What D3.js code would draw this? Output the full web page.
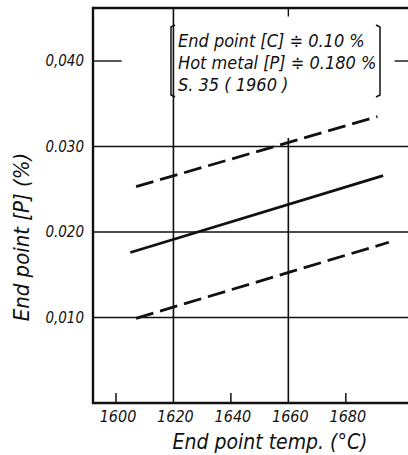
<!DOCTYPE html>
<html>
<head>
<meta charset="utf-8">
<script src="https://cdn.jsdelivr.net/npm/d3@7"></script>
<style>
  body { margin: 0; background: #fff; }
  svg { display: block; }
  text { font-family: "DejaVu Sans", sans-serif; font-style: italic; font-stretch: condensed; fill: #111; }
</style>
</head>
<body>
<div id="chart"></div>
<script>
// 数据
var xTicks = [1600, 1620, 1640, 1660, 1680]
var yTicks = [0.010, 0.020, 0.030, 0.040]
var yTickLabels = ["0,010", "0.020", "0.030", "0,040"]
var solidLine = [[1605, 0.0176], [1693, 0.0266]]
var upperDash = [[1607, 0.0253], [1691, 0.0335]]
var lowerDash = [[1607, 0.0099], [1695, 0.0188]]
var noteLines = ["End point [C] \u2251 0.10 %", "Hot metal [P] \u2251 0.180 %", "S. 35  ( 1960 )"]

var width = 408, height = 455

var svg = d3.select("#chart")
    .append("svg")
    .attr("width", width)
    .attr("height", height)

var x = d3.scaleLinear().domain([1592, 1702]).range([93, 409])
var y = d3.scaleLinear().domain([0, 0.0462]).range([403, 8])

var ink = "#111"

// 网格线
svg.selectAll("line.hgrid")
    .data(yTicks.filter(function (d) {return d < 0.035;}))
    .enter().append("line")
    .attr("x1", x(1592)).attr("x2", x(1702))
    .attr("y1", function (d) {return y(d);})
    .attr("y2", function (d) {return y(d);})
    .attr("stroke", ink).attr("stroke-width", 1.6)

// 0.040 只有两段短线 (中间是注释框)
svg.append("line")
    .attr("x1", x(1592)).attr("x2", x(1602))
    .attr("y1", y(0.040)).attr("y2", y(0.040))
    .attr("stroke", ink).attr("stroke-width", 1.4)
svg.append("line")
    .attr("x1", x(1697)).attr("x2", x(1702))
    .attr("y1", y(0.040)).attr("y2", y(0.040))
    .attr("stroke", ink).attr("stroke-width", 1.4)

// 竖线
svg.append("line")
    .attr("x1", x(1620)).attr("x2", x(1620))
    .attr("y1", y(0)).attr("y2", y(0.0462))
    .attr("stroke", ink).attr("stroke-width", 1.6)
svg.append("line")
    .attr("x1", x(1660)).attr("x2", x(1660))
    .attr("y1", y(0)).attr("y2", y(0.0310))
    .attr("stroke", ink).attr("stroke-width", 1.6)
svg.append("line")
    .attr("x1", x(1660)).attr("x2", x(1660))
    .attr("y1", y(0.0462)).attr("y2", y(0.0452))
    .attr("stroke", ink).attr("stroke-width", 1.4)

// 底部小刻度
svg.selectAll("line.xtick")
    .data([1600, 1640, 1680])
    .enter().append("line")
    .attr("x1", function (d) {return x(d);})
    .attr("x2", function (d) {return x(d);})
    .attr("y1", y(0)).attr("y2", y(0) - 10)
    .attr("stroke", ink).attr("stroke-width", 1.5)

// 边框
svg.append("path")
    .attr("d", "M" + x(1702) + "," + y(0.0462) + "H" + x(1592) + "V" + y(0) + "H" + x(1702))
    .attr("fill", "none")
    .attr("stroke", ink)
    .attr("stroke-width", 2.4)

// 数据线
var line = d3.line()
    .x(function (d) {return x(d[0]);})
    .y(function (d) {return y(d[1]);})

svg.append("path")
    .attr("d", line(solidLine))
    .attr("fill", "none").attr("stroke", ink).attr("stroke-width", 2.8)

svg.selectAll("path.dash")
    .data([upperDash, lowerDash])
    .enter().append("path")
    .attr("d", line)
    .attr("fill", "none")
    .attr("stroke", ink)
    .attr("stroke-width", 2.8)
    .attr("stroke-dasharray", "18,7")

// 刻度标签
svg.selectAll("text.xlab")
    .data(xTicks)
    .enter().append("text")
    .attr("x", function (d) {return x(d) + 2;})
    .attr("y", 422)
    .attr("text-anchor", "middle")
    .style("font-size", "16px")
    .text(function (d) {return d;})

svg.selectAll("text.ylab")
    .data(yTicks)
    .enter().append("text")
    .attr("x", 84)
    .attr("y", function (d) {return y(d) + 5;})
    .attr("text-anchor", "end")
    .style("font-size", "15px")
    .text(function (d, i) {return yTickLabels[i];})

// 轴标题
svg.append("text")
    .attr("x", 270)
    .attr("y", 449)
    .attr("text-anchor", "middle")
    .style("font-size", "21px")
    .text("End point temp. (\u00b0C)")

svg.append("text")
    .attr("transform", "translate(29,237)rotate(-90)")
    .attr("text-anchor", "middle")
    .style("font-size", "22px")
    .text("End point [P] (%)")

// 注释框
var bx0 = 171, bx1 = 380, by0 = 25, by1 = 97
svg.append("path")
    .attr("d", "M" + (bx0 + 4) + "," + by0 + "L" + bx0 + "," + (by0 + 2) + "V" + (by1 - 2) + "L" + (bx0 + 4) + "," + by1)
    .attr("fill", "none").attr("stroke", ink).attr("stroke-width", 1.5)
svg.append("path")
    .attr("d", "M" + (bx1 - 4) + "," + by0 + "L" + bx1 + "," + (by0 + 2) + "V" + (by1 - 2) + "L" + (bx1 - 4) + "," + by1)
    .attr("fill", "none").attr("stroke", ink).attr("stroke-width", 1.5)

svg.selectAll("text.note")
    .data(noteLines)
    .enter().append("text")
    .attr("x", 178)
    .attr("y", function (d, i) {return 47 + i * 22;})
    .style("font-size", "18px")
    .text(function (d) {return d;})
</script>
</body>
</html>
